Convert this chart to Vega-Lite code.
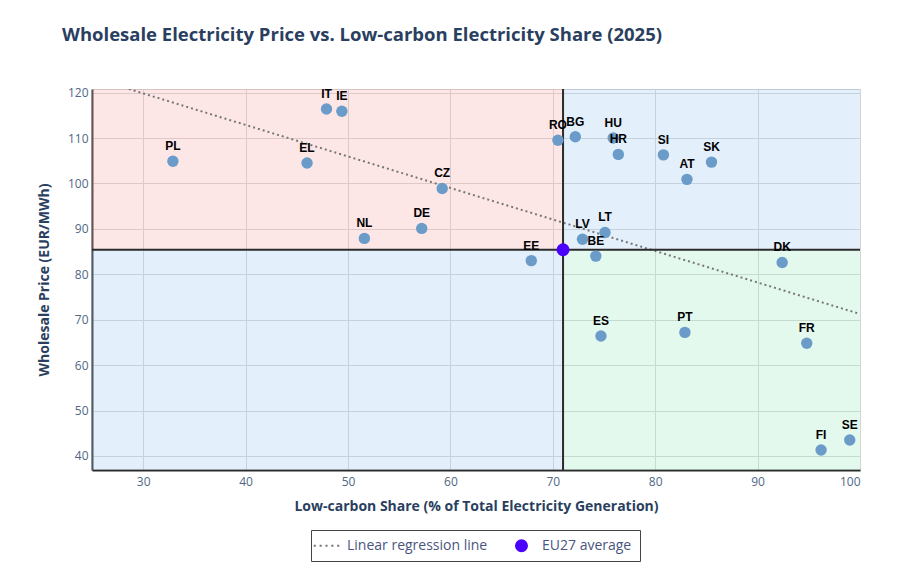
{
  "$schema": "https://vega.github.io/schema/vega-lite/v6.json",
  "width": 768,
  "height": 381,
  "autosize": {"type": "none"},
  "padding": {"left": 92, "top": 89, "right": 43, "bottom": 105},
  "background": "white",
  "title": {
    "text": "Wholesale Electricity Price vs. Low-carbon Electricity Share (2025)",
    "anchor": "start",
    "frame": "group",
    "dx": -30,
    "offset": 42,
    "font": "Open Sans",
    "fontSize": 18.5,
    "fontWeight": "bold",
    "color": "#2a3f5f"
  },
  "config": {
    "view": {"stroke": "#cccccc"},
    "axis": {
      "labelFont": "Open Sans",
      "labelFontSize": 12,
      "labelColor": "#506784",
      "titleFont": "Open Sans",
      "titleFontSize": 14,
      "titleFontWeight": "bold",
      "titleColor": "#2a3f5f",
      "gridColor": "#d4d4d4",
      "domainColor": "#2b2b2b",
      "domainWidth": 2,
      "ticks": false
    },
    "legend": {
      "orient": "none",
      "legendX": 219,
      "legendY": 441,
      "direction": "horizontal",
      "strokeColor": "#444444",
      "fillColor": "white",
      "padding": 8,
      "labelFont": "Open Sans",
      "labelFontSize": 14,
      "labelColor": "#4a5580",
      "symbolSize": 170,
      "labelOffset": 13,
      "columnPadding": 26
    }
  },
  "datasets": {
    "countries": [
      {"code": "PL", "share": 32.9, "price": 104.9},
      {"code": "EL", "share": 46.0, "price": 104.5},
      {"code": "IT", "share": 47.9, "price": 116.4},
      {"code": "IE", "share": 49.4, "price": 115.9},
      {"code": "NL", "share": 51.6, "price": 87.9},
      {"code": "DE", "share": 57.2, "price": 90.1},
      {"code": "CZ", "share": 59.2, "price": 98.9},
      {"code": "EE", "share": 67.9, "price": 83.0},
      {"code": "RO", "share": 70.5, "price": 109.5},
      {"code": "BG", "share": 72.2, "price": 110.3},
      {"code": "LV", "share": 72.9, "price": 87.7},
      {"code": "BE", "share": 74.2, "price": 84.0},
      {"code": "ES", "share": 74.7, "price": 66.4},
      {"code": "LT", "share": 75.1, "price": 89.2},
      {"code": "HU", "share": 75.9, "price": 110.0},
      {"code": "HR", "share": 76.4, "price": 106.4},
      {"code": "SI", "share": 80.8, "price": 106.3},
      {"code": "AT", "share": 83.1, "price": 100.9},
      {"code": "PT", "share": 82.9, "price": 67.2},
      {"code": "SK", "share": 85.5, "price": 104.7},
      {"code": "DK", "share": 92.4, "price": 82.6},
      {"code": "FR", "share": 94.8, "price": 64.8},
      {"code": "FI", "share": 96.2, "price": 41.3},
      {"code": "SE", "share": 99.0, "price": 43.5}
    ],
    "zones": [
      {"zone": "high price, low share", "x0": 25, "x1": 71.0, "y0": 85.4, "y1": 120.8},
      {"zone": "high price, high share", "x0": 71.0, "x1": 100, "y0": 85.4, "y1": 120.8},
      {"zone": "low price, low share", "x0": 25, "x1": 71.0, "y0": 36.9, "y1": 85.4},
      {"zone": "low price, high share", "x0": 71.0, "x1": 100, "y0": 36.9, "y1": 85.4}
    ],
    "average": [
      {"label": "EU27 average", "share": 71.0, "price": 85.4}
    ],
    "fit": [
      {"label": "Linear regression line", "share": 28.6, "price": 120.8},
      {"label": "Linear regression line", "share": 100, "price": 71.25}
    ]
  },
  "layer": [
    {
      "data": {"name": "zones"},
      "mark": {"type": "rect", "opacity": 0.3},
      "encoding": {
        "x": {"field": "x0", "type": "quantitative", "scale": {"domain": [25, 100], "nice": false},
          "axis": {"values": [30, 40, 50, 60, 70, 80, 90, 100], "labelPadding": 6, "titlePadding": 12},
          "title": "Low-carbon Share (% of Total Electricity Generation)"},
        "x2": {"field": "x1"},
        "y": {"field": "y0", "type": "quantitative", "scale": {"domain": [36.9, 120.8], "nice": false, "zero": false},
          "axis": {"values": [40, 50, 60, 70, 80, 90, 100, 110, 120], "labelPadding": 4, "titlePadding": 16},
          "title": "Wholesale Price (EUR/MWh)"},
        "y2": {"field": "y1"},
        "fill": {"field": "zone", "type": "nominal", "legend": null,
          "scale": {
            "domain": ["high price, low share", "high price, high share", "low price, low share", "low price, high share"],
            "range": ["#f8acac", "#a2caee", "#a2caee", "#a2ebc6"]
          }}
      }
    },
    {
      "data": {"name": "fit"},
      "mark": {"type": "line", "color": "#777777", "strokeWidth": 2, "strokeDash": [2, 3], "clip": true},
      "encoding": {
        "x": {"field": "share", "type": "quantitative"},
        "y": {"field": "price", "type": "quantitative"}
      }
    },
    {
      "data": {"name": "average"},
      "mark": {"type": "rule", "color": "#2b2b2b", "strokeWidth": 2},
      "encoding": {"x": {"field": "share", "type": "quantitative"}}
    },
    {
      "data": {"name": "average"},
      "mark": {"type": "rule", "color": "#2b2b2b", "strokeWidth": 2},
      "encoding": {"y": {"field": "price", "type": "quantitative"}}
    },
    {
      "data": {"name": "countries"},
      "mark": {"type": "circle", "size": 130, "color": "#6a9bc9", "opacity": 1},
      "encoding": {
        "x": {"field": "share", "type": "quantitative"},
        "y": {"field": "price", "type": "quantitative"},
        "tooltip": [
          {"field": "code", "title": "Country"},
          {"field": "share", "title": "Low-carbon share"},
          {"field": "price", "title": "Wholesale price"}
        ]
      }
    },
    {
      "data": {"name": "countries"},
      "mark": {"type": "text", "dy": -15, "font": "Liberation Sans", "fontSize": 12, "fontWeight": "bold", "color": "black"},
      "encoding": {
        "x": {"field": "share", "type": "quantitative"},
        "y": {"field": "price", "type": "quantitative"},
        "text": {"field": "code"}
      }
    },
    {
      "data": {"name": "average"},
      "mark": {"type": "point", "filled": true, "size": 170, "opacity": 1},
      "encoding": {
        "x": {"field": "share", "type": "quantitative"},
        "y": {"field": "price", "type": "quantitative"},
        "color": {"field": "label", "type": "nominal", "title": null,
          "scale": {"domain": ["Linear regression line", "EU27 average"], "range": ["#777777", "#4b00ff"]}},
        "shape": {"field": "label", "type": "nominal", "title": null,
          "scale": {"domain": ["Linear regression line", "EU27 average"],
            "range": ["M-1.96,-0.16h0.32v0.32h-0.32zM-1.06,-0.16h0.32v0.32h-0.32zM-0.16,-0.16h0.32v0.32h-0.32zM0.74,-0.16h0.32v0.32h-0.32zM1.64,-0.16h0.32v0.32h-0.32z", "circle"]}}
      }
    }
  ]
}
